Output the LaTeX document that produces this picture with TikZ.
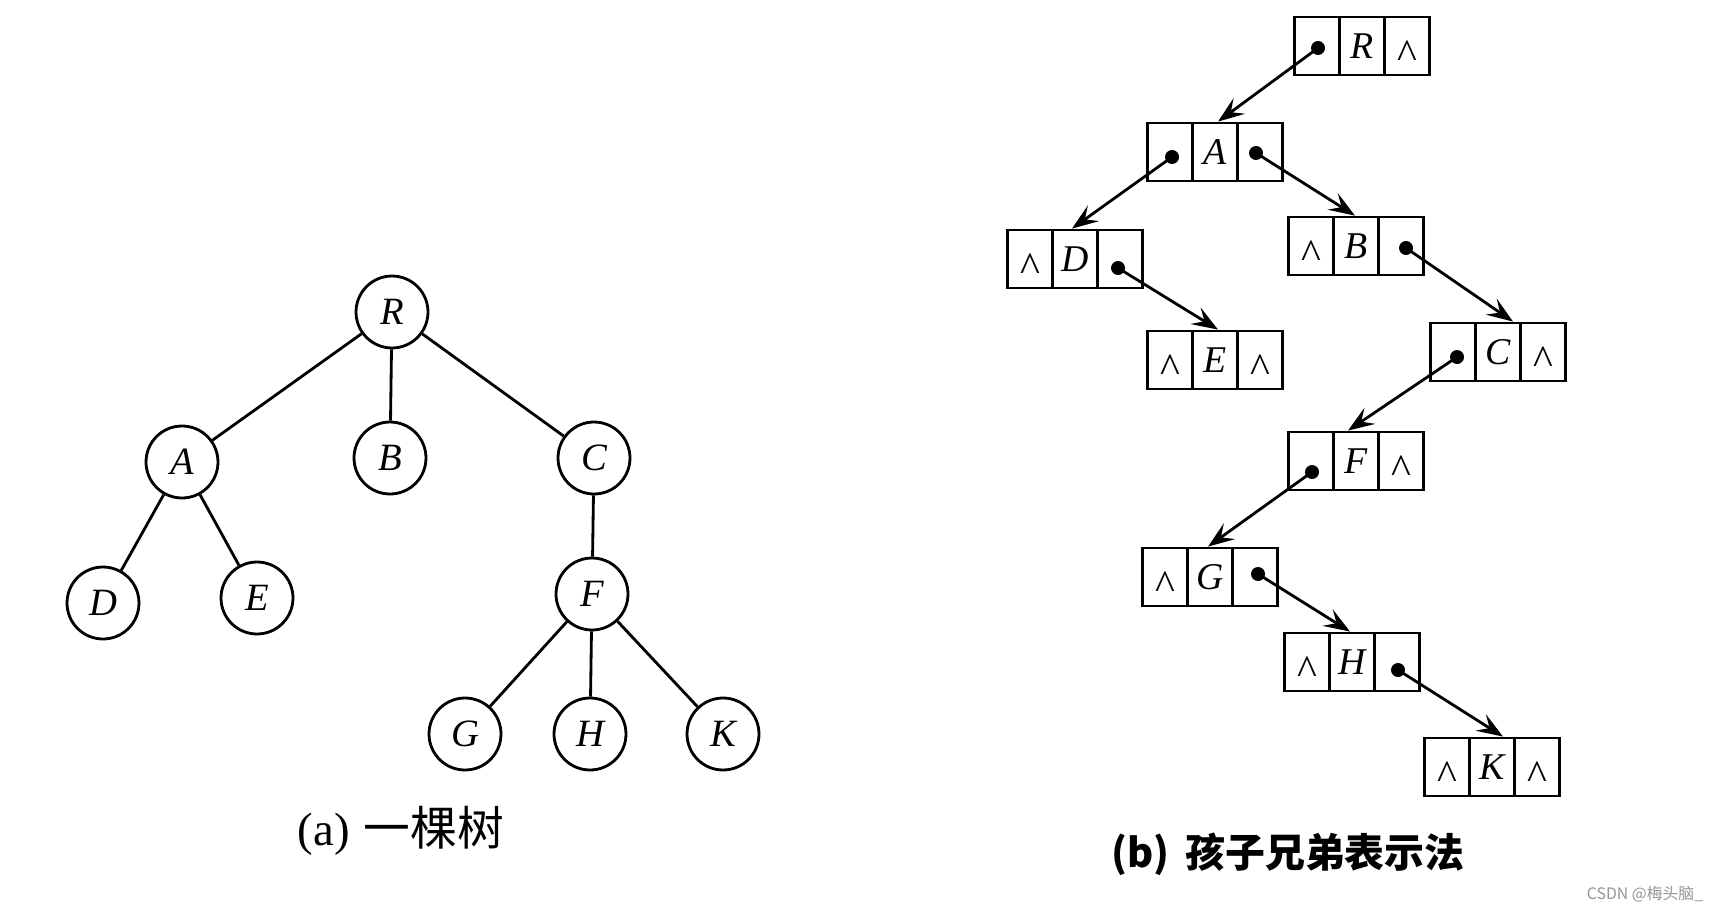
\documentclass[tikz,border=0pt]{standalone}
\usepackage{fontspec}
\setmainfont{Liberation Serif}
\newfontfamily\cjk{Noto Sans CJK SC}
\usetikzlibrary{arrows.meta,calc}
\definecolor{wmgray}{RGB}{150,150,150}
\newcommand\listbox[4]{%
  \node[cell] (#1-1) at (#2-45,#3) {};
  \node[cell] (#1-2) at (#2,#3) {#4};
  \node[cell] (#1-3) at (#2+45,#3) {};
}
\begin{document}
\begin{tikzpicture}[x=0.02cm,y=-0.02cm,
  tnode/.style={draw,circle,line width=1.6pt,minimum size=1.44cm,inner sep=0pt,
    font=\fontsize{22}{26}\selectfont\itshape},
  tedge/.style={line width=1.6pt},
  cell/.style={draw,rectangle,line width=1.6pt,minimum width=0.9cm,minimum height=1.16cm,
    inner sep=0pt,font=\fontsize{21.5}{26}\selectfont\itshape},
  nil/.style={inner sep=0pt,font=\fontsize{24}{28}\selectfont,yshift=-0.17cm},
  ptr/.style={line width=1.6pt,-{Stealth[length=15pt,width=11pt,inset=6pt]}},
  dotc/.style={fill,circle,inner sep=0pt,minimum size=0.28cm},
]
\fill[white] (0,0) rectangle (1719,912);
\useasboundingbox (0,0) rectangle (1719,912);

% ---------- (a) a tree ----------
\node[tnode] (tR) at (392,312) {R};
\node[tnode] (tA) at (182,462) {A};
\node[tnode] (tB) at (390,458) {B};
\node[tnode] (tC) at (594,458) {C};
\node[tnode] (tD) at (103,603) {D};
\node[tnode] (tE) at (257,598) {E};
\node[tnode] (tF) at (592,594) {F};
\node[tnode] (tG) at (465,734) {G};
\node[tnode] (tH) at (590,734) {H};
\node[tnode] (tK) at (723,734) {K};
\draw[tedge] (tR) -- (tA);
\draw[tedge] (tR) -- (tB);
\draw[tedge] (tR) -- (tC);
\draw[tedge] (tA) -- (tD);
\draw[tedge] (tA) -- (tE);
\draw[tedge] (tC) -- (tF);
\draw[tedge] (tF) -- (tG);
\draw[tedge] (tF) -- (tH);
\draw[tedge] (tF) -- (tK);
\node[anchor=base,font=\fontsize{26.6}{30}\selectfont] (capa) at (401,845)
  {(a)\hspace{0.3em}{\cjk 一棵树}};

% ---------- (b) child-sibling representation ----------
\listbox{R}{1362}{46}{R}
\listbox{A}{1215}{152}{A}
\listbox{B}{1356}{246}{B}
\listbox{D}{1075}{259}{D}
\listbox{E}{1215}{360}{E}
\listbox{C}{1498}{352}{C}
\listbox{F}{1356}{461}{F}
\listbox{G}{1210}{577}{G}
\listbox{H}{1352}{662}{H}
\listbox{K}{1492}{767}{K}

% null pointers
\node[nil] (nR3) at (R-3) {\textasciicircum};
\node[nil] (nD1) at (D-1) {\textasciicircum};
\node[nil] (nB1) at (B-1) {\textasciicircum};
\node[nil] (nE1) at (E-1) {\textasciicircum};
\node[nil] (nE3) at (E-3) {\textasciicircum};
\node[nil] (nC3) at (C-3) {\textasciicircum};
\node[nil] (nF3) at (F-3) {\textasciicircum};
\node[nil] (nG1) at (G-1) {\textasciicircum};
\node[nil] (nH1) at (H-1) {\textasciicircum};
\node[nil] (nK1) at (K-1) {\textasciicircum};
\node[nil] (nK3) at (K-3) {\textasciicircum};

% pointer dots
\node[dotc] (pR1) at ($(R-1)+(1,2)$) {};
\node[dotc] (pA1) at ($(A-1)+(2,5)$) {};
\node[dotc] (pA3) at ($(A-3)+(-4,1)$) {};
\node[dotc] (pD3) at ($(D-3)+(-2,9)$) {};
\node[dotc] (pB3) at ($(B-3)+(5,2)$) {};
\node[dotc] (pC1) at ($(C-1)+(4,5)$) {};
\node[dotc] (pF1) at ($(F-1)+(1,11)$) {};
\node[dotc] (pG3) at ($(G-3)+(3,-3)$) {};
\node[dotc] (pH3) at ($(H-3)+(1,8)$) {};

% pointers
\draw[ptr] (pR1.center) -- ($(A-2.north)+(3,0)$);
\draw[ptr] (pA1.center) -- ($(D-2.north)+(-3,0)$);
\draw[ptr] (pA3.center) -- ($(B-2.north)+(-1,0)$);
\draw[ptr] (pD3.center) -- ($(E-2.north)+(3,0)$);
\draw[ptr] (pB3.center) -- ($(C-2.north)+(15,0)$);
\draw[ptr] (pC1.center) -- ($(F-2.north)+(-8,0)$);
\draw[ptr] (pF1.center) -- ($(G-2.north)+(-2,0)$);
\draw[ptr] (pG3.center) -- ($(H-2.north)+(-2,0)$);
\draw[ptr] (pH3.center) -- ($(K-2.north)+(11,0)$);

\node[font=\cjk\bfseries\fontsize{22.7}{27}\selectfont] (capb) at (1288,854)
  {(b)\hspace{0.4em}孩子兄弟表示法};

\node[text=wmgray,font=\cjk\fontsize{9}{11}\selectfont] (wm) at (1645,894)
  {CSDN @梅头脑\_};
\end{tikzpicture}
\end{document}
